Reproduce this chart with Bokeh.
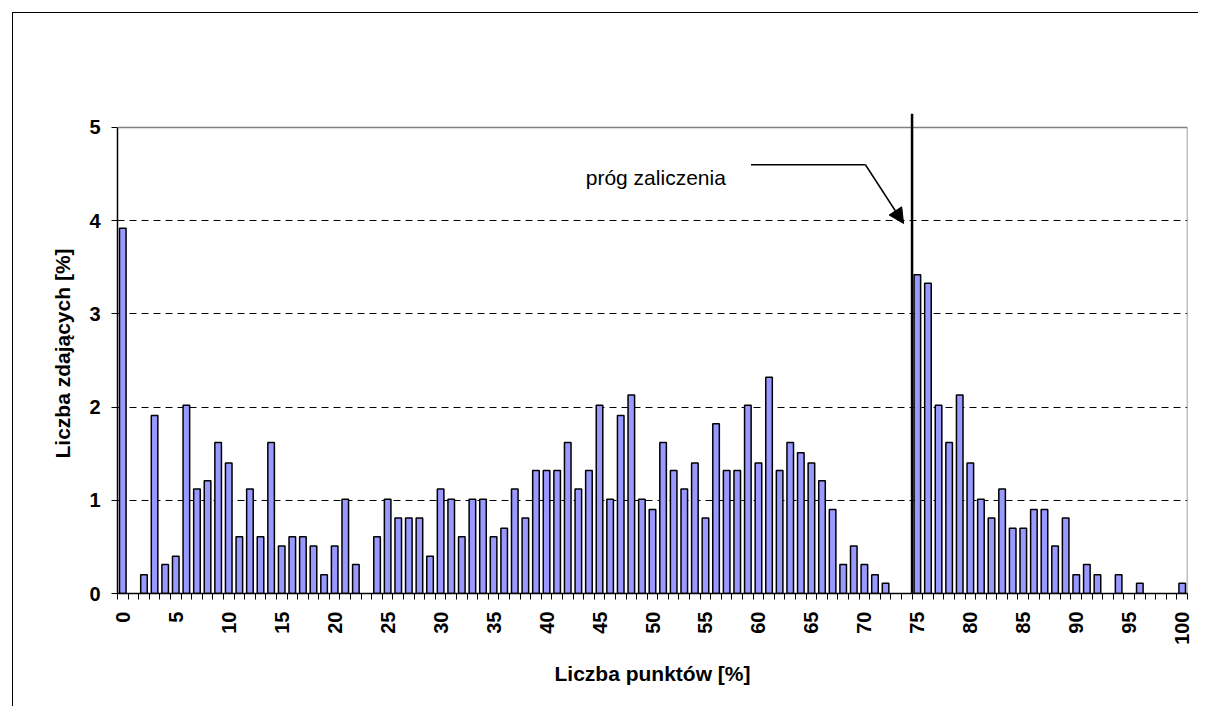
import math
from bokeh.plotting import figure
from bokeh.models import (ColumnDataSource, Range1d, FixedTicker, Arrow, NormalHead,
                          Label, Span)
from bokeh.embed import file_html
from bokeh.resources import INLINE

# ---------------- data ----------------
points = list(range(101))  # Liczba punktów [%]
share = [
    3.92, 0.00, 0.20, 1.91, 0.31, 0.40, 2.02, 1.12, 1.21, 1.62,   # 0-9
    1.40, 0.61, 1.12, 0.61, 1.62, 0.51, 0.61, 0.61, 0.51, 0.20,   # 10-19
    0.51, 1.01, 0.31, 0.00, 0.61, 1.01, 0.81, 0.81, 0.81, 0.40,   # 20-29
    1.12, 1.01, 0.61, 1.01, 1.01, 0.61, 0.70, 1.12, 0.81, 1.32,   # 30-39
    1.32, 1.32, 1.62, 1.12, 1.32, 2.02, 1.01, 1.91, 2.13, 1.01,   # 40-49
    0.90, 1.62, 1.32, 1.12, 1.40, 0.81, 1.82, 1.32, 1.32, 2.02,   # 50-59
    1.40, 2.32, 1.32, 1.62, 1.51, 1.40, 1.21, 0.90, 0.31, 0.51,   # 60-69
    0.31, 0.20, 0.11, 0.00, 0.00, 3.42, 3.33, 2.02, 1.62, 2.13,   # 70-79
    1.40, 1.01, 0.81, 1.12, 0.70, 0.70, 0.90, 0.90, 0.51, 0.81,   # 80-89
    0.20, 0.31, 0.20, 0.00, 0.20, 0.00, 0.11, 0.00, 0.00, 0.00,   # 90-99
    0.11,                                                         # 100
]
x_tick_labels = list(range(0, 101, 5))
y_ticks = [0, 1, 2, 3, 4, 5]
Y_MAX = 5
THRESHOLD = 75
threshold_text = "próg zaliczenia"
x_title = "Liczba punktów [%]"
y_title = "Liczba zdających [%]"

# layout helpers (data units)
Y_TOP_EXT = 5.15          # the threshold line rises a little above the plot box
label_pos = (43.7, 4.46)
callout_start = (59.3, 4.60)
callout_bend = (70.1, 4.60)
callout_tip = (73.7, 3.97)

FONT = "Liberation Sans"

xs = [p_ for p_, v in zip(points, share) if v > 0]
tops = [v for v in share if v > 0]
src = ColumnDataSource(data=dict(x=xs, top=tops))

x_lo, x_hi = points[0] - 0.5, points[-1] + 0.5

p = figure(width=1186, height=694,
           x_range=Range1d(x_lo, x_hi), y_range=Range1d(0, Y_TOP_EXT),
           output_backend="svg", toolbar_location=None,
           min_border_left=104, min_border_right=12,
           min_border_top=100, min_border_bottom=114,
           background_fill_color="white", border_fill_color="white")
p.styles = {"margin-left": "12px", "margin-top": "12px",
            "border-left": "1px solid black", "border-top": "1px solid black"}

p.outline_line_color = None

# grey plot-box edges (top at Y_MAX, right at last category edge)
p.add_layout(Span(location=Y_MAX, dimension="width",
                  line_color="#808080", line_width=1.5))
p.segment(x0=[x_hi], y0=[0], x1=[x_hi], y1=[Y_MAX],
          line_color="#808080", line_width=1.5)

# grid
p.xgrid.visible = False
p.ygrid.ticker = FixedTicker(ticks=[t for t in y_ticks if 0 < t < Y_MAX])
p.ygrid.grid_line_color = "black"
p.ygrid.grid_line_dash = "7 5"
p.ygrid.grid_line_width = 1

p.vbar(x="x", top="top", width=0.62, source=src,
       fill_color="#9999FF", line_color="black", line_width=1.5)

# y axis
ya = p.yaxis[0]
ya.ticker = FixedTicker(ticks=y_ticks)
ya.bounds = (0, Y_MAX)
ya.axis_line_color = "black"
ya.axis_line_width = 1.5
ya.major_tick_out = 6
ya.major_tick_in = 0
ya.minor_tick_out = 0
ya.minor_tick_in = 0
ya.major_tick_line_color = "black"
ya.major_label_text_font = FONT
ya.major_label_text_font_style = "bold"
ya.major_label_text_font_size = "20px"
ya.major_label_text_color = "black"
ya.major_label_standoff = 11
ya.axis_label = y_title
ya.axis_label_text_font = FONT
ya.axis_label_text_font_style = "bold"
ya.axis_label_text_font_size = "21px"
ya.axis_label_text_color = "black"
ya.axis_label_standoff = 12

# x axis
xa = p.xaxis[0]
xa.ticker = FixedTicker(ticks=x_tick_labels,
                        minor_ticks=[i - 0.5 for i in range(len(points) + 1)])
xa.axis_line_color = "black"
xa.axis_line_width = 1.5
xa.major_tick_out = 0
xa.major_tick_in = 0
xa.minor_tick_out = 6
xa.minor_tick_in = 0
xa.minor_tick_line_color = "black"
xa.major_label_orientation = math.pi / 2
xa.major_label_text_font = FONT
xa.major_label_text_font_style = "bold"
xa.major_label_text_font_size = "20px"
xa.major_label_text_color = "black"
xa.major_label_standoff = 12
xa.axis_label = x_title
xa.axis_label_text_font = FONT
xa.axis_label_text_font_style = "bold"
xa.axis_label_text_font_size = "21px"
xa.axis_label_text_color = "black"
xa.axis_label_standoff = 14

# threshold line (category boundary just before THRESHOLD)
p.add_layout(Span(location=THRESHOLD - 0.5, dimension="height",
                  line_color="black", line_width=2.5))

# callout
p.add_layout(Arrow(end=None, x_start=callout_start[0], y_start=callout_start[1],
                   x_end=callout_bend[0], y_end=callout_bend[1],
                   line_color="black", line_width=1.5))
p.add_layout(Arrow(end=NormalHead(size=15, fill_color="black", line_color="black"),
                   x_start=callout_bend[0], y_start=callout_bend[1],
                   x_end=callout_tip[0], y_end=callout_tip[1],
                   line_color="black", line_width=1.5))
p.add_layout(Label(x=label_pos[0], y=label_pos[1], text=threshold_text,
                   text_font=FONT, text_font_size="21px", text_color="black",
                   text_baseline="alphabetic"))

open("out.html", "w").write(file_html(p, INLINE))
